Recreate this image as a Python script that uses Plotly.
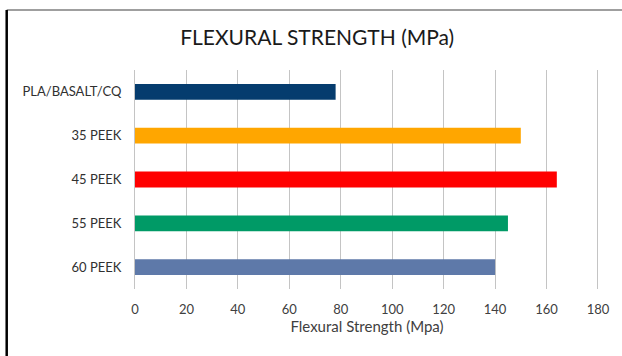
import plotly.graph_objects as go

# Flexural strength by material
materials = ["PLA/BASALT/CQ", "35 PEEK", "45 PEEK", "55 PEEK", "60 PEEK"]
strength_mpa = [78, 150, 164, 145, 140]
bar_colors = ["#053c6e", "#ffa600", "#ff0000", "#009a66", "#5e79a9"]
x_ticks = [0, 20, 40, 60, 80, 100, 120, 140, 160, 180]

FONT = "Lato, 'Open Sans', sans-serif"

fig = go.Figure(
    go.Bar(
        y=materials,
        x=strength_mpa,
        orientation="h",
        marker=dict(color=bar_colors, line=dict(width=0)),
        width=0.36,
        hoverinfo="x+y",
    )
)

fig.update_layout(
    width=622,
    height=356,
    margin=dict(l=135, r=23, t=70, b=67),
    paper_bgcolor="white",
    plot_bgcolor="white",
    showlegend=False,
    title=dict(
        text="FLEXURAL STRENGTH (MPa)",
        x=0.51,
        xanchor="center",
        y=0.895,
        yanchor="middle",
        font=dict(family=FONT, size=21, color="#1a1a1a"),
    ),
    xaxis=dict(
        range=[0, 180.4],
        tickvals=x_ticks,
        showgrid=True,
        gridcolor="#c4c4c4",
        gridwidth=1,
        zeroline=False,
        showline=False,
        ticks="",
        ticklabelstandoff=11,
        tickfont=dict(family=FONT, size=13, color="#404040"),
        title=dict(
            text="Flexural Strength (Mpa)",
            font=dict(family=FONT, size=15, color="#404040"),
            standoff=4,
        ),
    ),
    yaxis=dict(
        categoryorder="array",
        categoryarray=materials,
        autorange="reversed",
        showgrid=False,
        showline=True,
        linecolor="#c4c4c4",
        linewidth=1,
        ticks="",
        ticklabelstandoff=10,
        tickfont=dict(family=FONT, size=13, color="#303030"),
    ),
    shapes=[
        # chart frame: top edge and left edge
        dict(type="line", xref="paper", yref="paper", x0=-0.2765, x1=1.06,
             y0=1.274, y1=1.274, line=dict(color="#7f7f7f", width=1.5)),
        dict(type="line", xref="paper", yref="paper", x0=-0.2765, x1=-0.2765,
             y0=1.274, y1=-0.32, line=dict(color="#000000", width=2.5)),
    ],
)

fig.write_html("out.html")
